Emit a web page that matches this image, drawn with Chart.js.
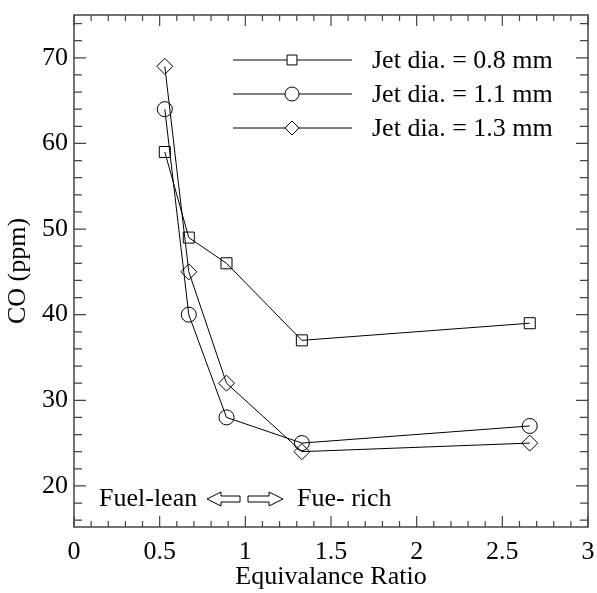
<!DOCTYPE html>
<html>
<head>
<meta charset="utf-8">
<script src="https://cdn.jsdelivr.net/npm/chart.js@4"></script>
<style>
  html, body { margin: 0; padding: 0; background: #fff; }
  #wrap { width: 597px; height: 593px; }
</style>
</head>
<body>
<div id="wrap"><canvas id="c" width="597" height="593"></canvas></div>
<script>
// data
const ratio = [0.53, 0.67, 0.89, 1.33, 2.66];
const co08 = [59, 49, 46, 37, 39];
const co11 = [64, 40, 28, 25, 27];
const co13 = [69, 45, 32, 24, 25];
const labels = ['Jet dia. = 0.8 mm', 'Jet dia. = 1.1 mm', 'Jet dia. = 1.3 mm'];
const xTicks = [0, 0.5, 1, 1.5, 2, 2.5, 3];
const yTicks = [20, 30, 40, 50, 60, 70];

const FONT = '"Liberation Serif", "Times New Roman", serif';
const FS = 26;
const styles = [
    { pointStyle: 'rect', radius: 7.8, legR: 7 },
    { pointStyle: 'circle', radius: 7.5, legR: 7 },
    { pointStyle: 'rectRot', radius: 8, legR: 7 }
];

function series(ys) {
    return ratio.map((x, i) => ({ x: x, y: ys[i] }));
}

// inward ticks, frame, legend and the lean/rich note
const decor = {
    id: 'decor',
    afterDraw(chart) {
        const ctx = chart.ctx;
        const a = chart.chartArea;
        const xs = chart.scales.x, ys = chart.scales.y;
        ctx.save();
        ctx.strokeStyle = '#444';
        ctx.lineWidth = 1.5;
        ctx.strokeRect(a.left, a.top, a.right - a.left, a.bottom - a.top);

        ctx.lineWidth = 1.2;
        ctx.beginPath();
        for (let v = 0; v <= 30; v++) {
            const px = xs.getPixelForValue(v / 10);
            const len = v % 5 === 0 ? 11 : 6;
            ctx.moveTo(px, a.bottom); ctx.lineTo(px, a.bottom - len);
            ctx.moveTo(px, a.top); ctx.lineTo(px, a.top + len);
        }
        for (let v = 16; v <= 74; v += 2) {
            const py = ys.getPixelForValue(v);
            const len = v % 10 === 0 ? 12 : 8;
            ctx.moveTo(a.left, py); ctx.lineTo(a.left + len, py);
            ctx.moveTo(a.right, py); ctx.lineTo(a.right - len, py);
        }
        ctx.stroke();

        // legend
        ctx.font = FS + 'px ' + FONT;
        ctx.fillStyle = '#000';
        ctx.textBaseline = 'middle';
        const rows = [60, 94, 128];
        chart.data.datasets.forEach((ds, i) => {
            const y = rows[i];
            ctx.strokeStyle = '#000';
            ctx.lineWidth = 1;
            ctx.beginPath();
            ctx.moveTo(233, y); ctx.lineTo(352, y);
            ctx.stroke();
            ctx.fillStyle = '#fff';
            ctx.beginPath();
            Chart.helpers.drawPoint(ctx, { pointStyle: styles[i].pointStyle, radius: styles[i].legR, rotation: 0, borderWidth: 1 }, 292, y);
            ctx.fillStyle = '#000';
            ctx.fillText(ds.label, 372, y + 1);
        });

        // fuel-lean / rich note
        const ny = 499;
        ctx.fillText('Fuel-lean', 99, ny);
        ctx.fillText('Fue- rich', 297, ny);
        ctx.lineWidth = 1;
        ctx.strokeStyle = '#000';
        ctx.beginPath();
        ctx.moveTo(207, ny);
        ctx.lineTo(221, ny - 7); ctx.lineTo(221, ny - 3);
        ctx.lineTo(240, ny - 3); ctx.lineTo(240, ny + 3);
        ctx.lineTo(221, ny + 3); ctx.lineTo(221, ny + 7);
        ctx.closePath();
        ctx.moveTo(283, ny);
        ctx.lineTo(269, ny - 7); ctx.lineTo(269, ny - 3);
        ctx.lineTo(248, ny - 3); ctx.lineTo(248, ny + 3);
        ctx.lineTo(269, ny + 3); ctx.lineTo(269, ny + 7);
        ctx.closePath();
        ctx.stroke();
        ctx.restore();
    }
};

new Chart(document.getElementById('c'), {
    type: 'scatter',
    data: {
        datasets: [co08, co11, co13].map((ys, i) => ({
            label: labels[i],
            data: series(ys),
            showLine: true,
            borderColor: '#000',
            borderWidth: 1,
            backgroundColor: 'rgba(0,0,0,0)',
            pointStyle: styles[i].pointStyle,
            pointRadius: styles[i].radius,
            pointHoverRadius: styles[i].radius,
            pointBorderColor: '#000',
            pointBorderWidth: 1,
            pointBackgroundColor: 'rgba(0,0,0,0)'
        }))
    },
    options: {
        responsive: false,
        animation: false,
        layout: { padding: { top: 15, right: 8, left: 0, bottom: 0 } },
        plugins: { legend: { display: false }, tooltip: { enabled: false } },
        scales: {
            x: {
                type: 'linear',
                min: 0, max: 3,
                grid: { display: false, drawTicks: true, tickLength: 10 },
                border: { display: false },
                afterBuildTicks: s => { s.ticks = xTicks.map(v => ({ value: v })); },
                afterFit: s => { s.height = 66; s.paddingLeft = 0; s.paddingRight = 0; },
                ticks: { color: '#000', font: { family: FONT, size: FS }, padding: 0, maxRotation: 0,
                         callback: v => String(v) },
                title: { display: true, text: 'Equivalance Ratio', color: '#000',
                         font: { family: FONT, size: FS }, padding: { top: 0, bottom: 0 } }
            },
            y: {
                type: 'linear',
                min: 15.2, max: 75,
                grid: { display: false, drawTicks: true, tickLength: 6 },
                border: { display: false },
                afterBuildTicks: s => { s.ticks = yTicks.map(v => ({ value: v })); },
                afterFit: s => { s.width = 74; s.paddingTop = 0; s.paddingBottom = 0; },
                ticks: { color: '#000', font: { family: FONT, size: FS }, padding: 0,
                         callback: v => String(v) },
                title: { display: true, text: 'CO (ppm)', color: '#000',
                         font: { family: FONT, size: FS }, padding: { top: 3, bottom: 0 } }
            }
        }
    },
    plugins: [decor]
});
</script>
</body>
</html>
